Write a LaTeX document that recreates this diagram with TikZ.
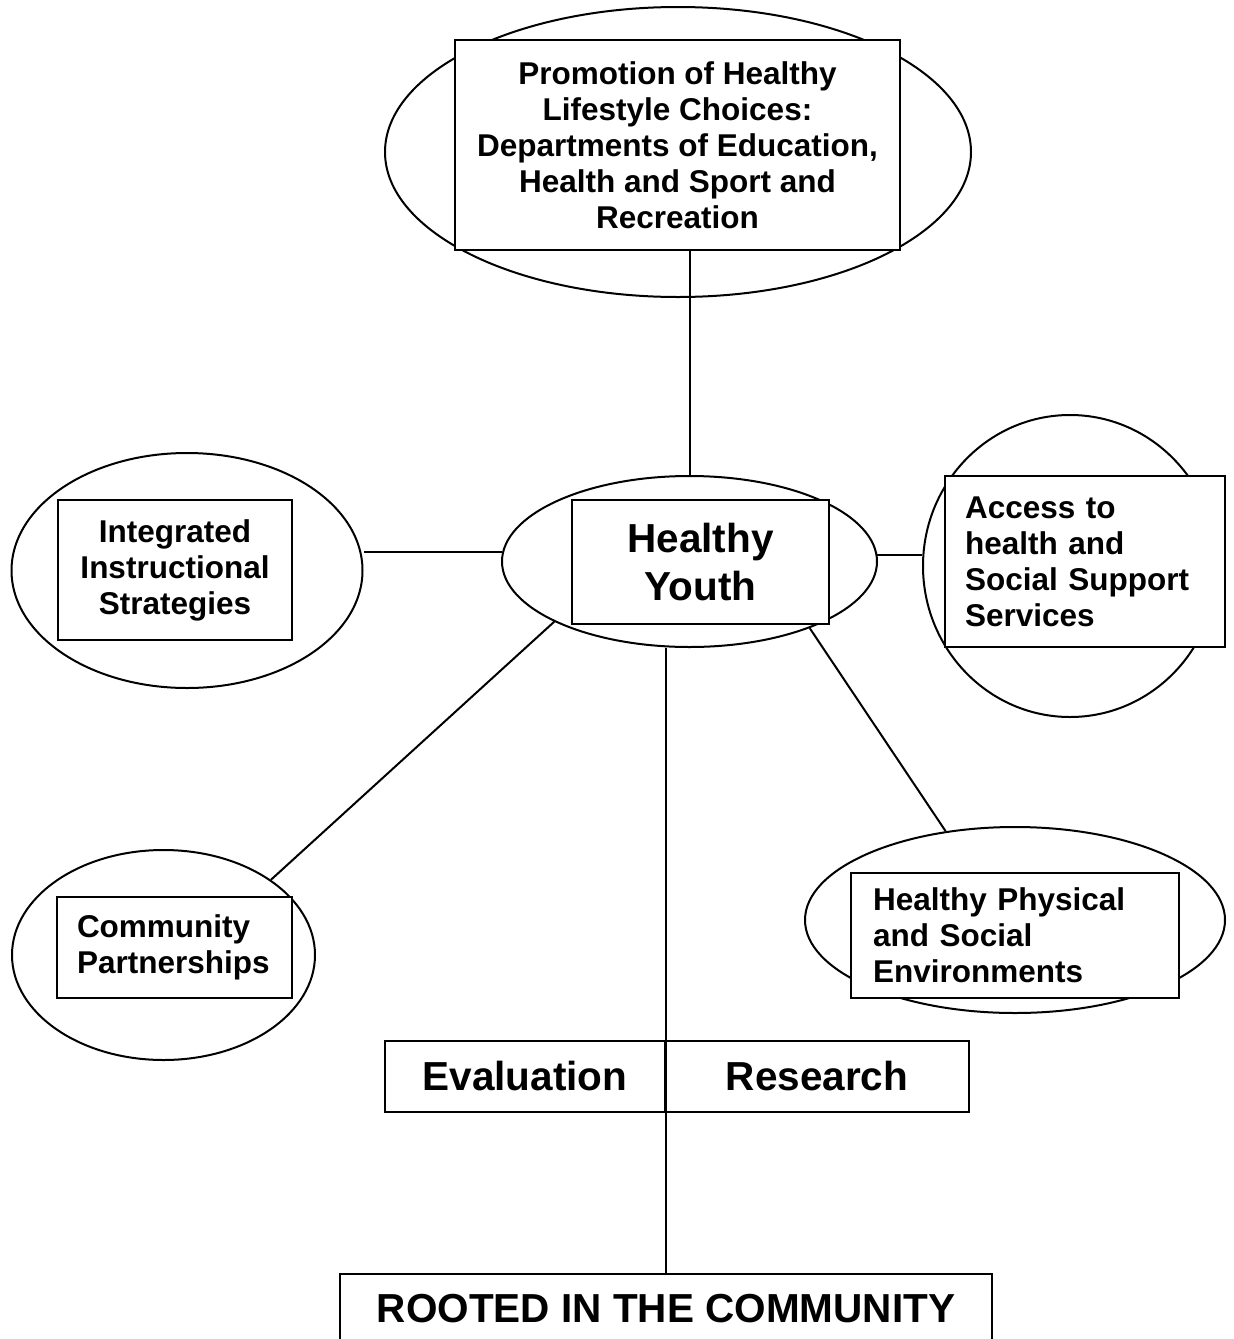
\documentclass[tikz,border=0pt]{standalone}
\usepackage{fontspec}
\setmainfont{Liberation Sans}
\usetikzlibrary{shapes.geometric}

\tikzstyle{bubble}=[ellipse, draw, line width=2pt, inner sep=0pt]
\tikzstyle{panel}=[rectangle, draw, fill=white, line width=2pt, inner sep=0pt,
                   font=\fontsize{31.5}{36}\selectfont\bfseries]
\tikzstyle{bigpanel}=[panel, font=\fontsize{40.5}{48}\selectfont\bfseries]

\begin{document}
\begin{tikzpicture}[x=1pt,y=-1pt,line width=2pt]
  \useasboundingbox (0,0) rectangle (1234,1339);

  \node[bubble, minimum width=586pt, minimum height=290pt] (promoE) at (678,152) {};
  \node[bubble, minimum width=375pt, minimum height=171pt] (youthE) at (689.5,561.5) {};
  \node[bubble, minimum width=351pt, minimum height=235pt] (integE) at (187,570.5) {};
  \node[bubble, minimum width=294pt, minimum height=302pt] (accE) at (1070,566) {};
  \node[bubble, minimum width=303pt, minimum height=210pt] (commE) at (163.5,955) {};
  \node[bubble, minimum width=420pt, minimum height=186pt] (physE) at (1015,920) {};

  \node[panel, minimum width=445pt, minimum height=210pt, align=center] (promo) at (677.5,145)
    {Promotion of Healthy\\Lifestyle Choices:\\Departments of Education,\\Health and Sport and\\Recreation};
  \node[bigpanel, minimum width=257pt, minimum height=124pt, align=center] (youth) at (700.5,562)
    {Healthy\\Youth};
  \node[panel, minimum width=234pt, minimum height=140pt, align=center] (integ) at (175,570)
    {Integrated\\Instructional\\Strategies};
  \node[panel, minimum height=171pt, text width=240pt, inner xsep=20pt, align=left] (acc) at (1085,561.5)
    {Access to\\health and\\Social Support\\Services};
  \node[panel, minimum height=101pt, text width=195pt, inner xsep=20pt, align=left] (comm) at (174.5,947.5)
    {Community\\Partnerships};
  \node[panel, minimum height=125pt, text width=284pt, inner xsep=22pt, align=left] (phys) at (1015,935.5)
    {Healthy Physical\\and Social\\Environments};

  \node[bigpanel, minimum width=280pt, minimum height=71pt] (eval) at (525,1076.5) {Evaluation};
  \node[bigpanel, minimum width=304pt, minimum height=71pt] (res) at (817,1076.5) {Research};
  \node[bigpanel, minimum width=652pt, minimum height=70pt] (rooted) at (666,1309) {ROOTED IN THE COMMUNITY};

  \draw (promo.south -| youthE.north) -- (youthE.north);
  \draw (youthE.177.5) -- (youthE.177.5 -| integE.east);
  \draw (youthE.2.5) -- (youthE.2.5 -| accE.west);
  \draw (youthE.204) -- (commE.35);
  \draw (youthE.-29) -- (physE.128);
  \draw (eval.east |- youthE.south) -- (eval.east |- rooted.north);
\end{tikzpicture}
\end{document}
